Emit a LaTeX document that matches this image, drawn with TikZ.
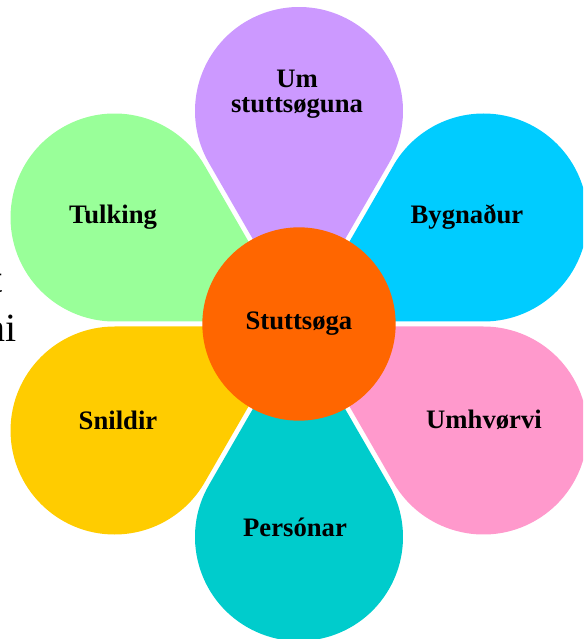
\documentclass[tikz,border=0pt]{standalone}
\usepackage{fontspec}
\setmainfont{Liberation Serif}
\usetikzlibrary{calc}
\definecolor{umcolor}{RGB}{204,153,255}
\definecolor{bygcolor}{RGB}{0,204,255}
\definecolor{umhcolor}{RGB}{255,153,204}
\definecolor{percolor}{RGB}{0,204,204}
\definecolor{snicolor}{RGB}{255,204,0}
\definecolor{tulcolor}{RGB}{153,255,153}
\definecolor{hubcolor}{RGB}{255,102,0}
\tikzset{
	petallabel/.style={font=\bfseries\fontsize{20}{19}\selectfont,align=center,text=black},
	hubstyle/.style={circle,fill=hubcolor,minimum size=145pt,inner sep=0pt,font=\bfseries\fontsize{20}{19}\selectfont},
	straytext/.style={font=\fontsize{30}{36}\selectfont,anchor=base east,inner sep=0pt}
}
% teardrop petal: #1 direction, #2 colour
\newcommand{\petal}[2]{%
	\fill[#2] (#1:5) -- ($(#1:213)+({#1-120}:104)$) arc[start angle={#1-120}, end angle={#1+120}, radius=104] -- cycle;
}

\begin{document}
\begin{tikzpicture}[x=0.75pt,y=0.75pt]
	\useasboundingbox (-299,-315) rectangle (284,324);
	\clip (-299,-315) rectangle (284,324);
	\node[straytext] (frag1) at (-296,31) {t};
	\node[straytext] (frag2) at (-282,-17) {ni};
	\petal{90}{umcolor}
	\petal{30}{bygcolor}
	\petal{-30}{umhcolor}
	\petal{-90}{percolor}
	\petal{210}{snicolor}
	\petal{150}{tulcolor}
	\node[hubstyle] (stuttsoga) at (0,0) {Stuttsøga};
	\node[petallabel] (umstutt) at (-2,230) {Um\\stuttsøguna};
	\node[petallabel] (bygnadur) at (168,107) {Bygnaður};
	\node[petallabel] (umhvorvi) at (185,-96) {Umhvørvi};
	\node[petallabel] (personar) at (-4,-203) {Persónar};
	\node[petallabel] (snildir) at (-181,-96) {Snildir};
	\node[petallabel] (tulking) at (-186,107) {Tulking};
\end{tikzpicture}
\end{document}
